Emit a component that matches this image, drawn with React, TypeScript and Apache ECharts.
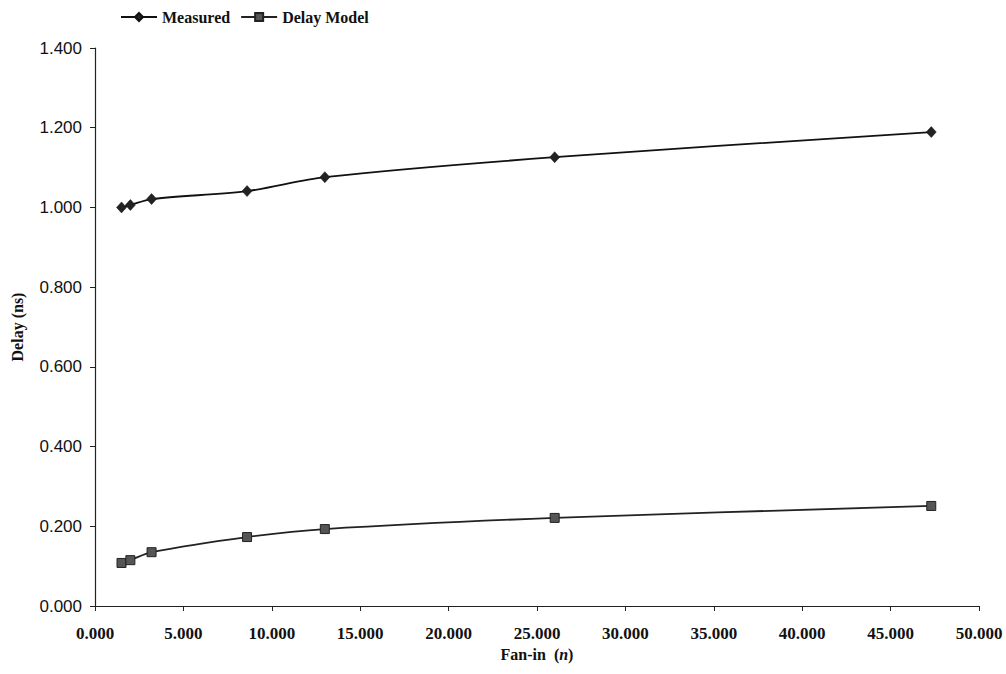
import React, { useEffect, useRef } from "react";
import * as echarts from "echarts";

const fanIn = [1.5, 2.0, 3.2, 8.6, 13.0, 26.0, 47.3];
const measured = [1.0, 1.006, 1.021, 1.041, 1.076, 1.126, 1.189];
const delayModel = [0.108, 0.115, 0.135, 0.173, 0.193, 0.221, 0.251];
const xTicks = { min: 0, max: 50, interval: 5 };
const yTicks = { min: 0, max: 1.4, interval: 0.2 };

const serif = "'Liberation Serif', 'Times New Roman', serif";
const sans = "'Liberation Sans', Arial, sans-serif";

export default function App() {
  const ref = useRef<HTMLDivElement>(null);
  useEffect(() => {
    if (!ref.current) return;
    const chart = echarts.init(ref.current, undefined, { renderer: "svg" });
    chart.setOption({
      animation: false,
      backgroundColor: "#ffffff",
      grid: { left: 95, right: 27, top: 48, bottom: 68, outerBoundsMode: "none", containLabel: false },
      legend: {
        left: 115,
        top: 4,
        itemWidth: 36,
        itemHeight: 10,
        itemGap: 10,
        textStyle: { fontFamily: serif, fontSize: 16, fontWeight: "bold", color: "#111" },
        data: ["Measured", "Delay Model"],
      },
      xAxis: {
        type: "value",
        min: xTicks.min,
        max: xTicks.max,
        interval: xTicks.interval,
        name: "Fan-in  ({i|n})",
        nameLocation: "middle",
        nameGap: 40,
        nameTextStyle: {
          fontFamily: serif,
          fontSize: 16,
          fontWeight: "bold",
          color: "#111",
          rich: { i: { fontFamily: serif, fontSize: 16, fontStyle: "italic", fontWeight: "bold", color: "#111" } },
        },
        axisLine: { show: true, lineStyle: { color: "#222", width: 1.2 } },
        axisTick: { show: true, length: 5, lineStyle: { color: "#222" } },
        splitLine: { show: false },
        axisLabel: {
          fontFamily: serif,
          fontSize: 17,
          fontWeight: "bold",
          color: "#111",
          margin: 19,
          formatter: (v: number) => v.toFixed(3),
        },
      },
      yAxis: {
        type: "value",
        min: yTicks.min,
        max: yTicks.max,
        interval: yTicks.interval,
        name: "Delay (ns)",
        nameLocation: "middle",
        nameGap: 70,
        nameTextStyle: { fontFamily: serif, fontSize: 16, fontWeight: "bold", color: "#111" },
        axisLine: { show: true, lineStyle: { color: "#222", width: 1.2 } },
        axisTick: { show: true, length: 5, lineStyle: { color: "#222" } },
        splitLine: { show: false },
        axisLabel: {
          fontFamily: sans,
          fontSize: 17,
          color: "#111",
          margin: 13,
          formatter: (v: number) => v.toFixed(3),
        },
      },
      series: [
        {
          name: "Measured",
          type: "line",
          smooth: 0.3,
          data: fanIn.map((x, i) => [x, measured[i]]),
          symbol: "diamond",
          symbolSize: [10, 11],
          lineStyle: { color: "#111", width: 1.8 },
          itemStyle: { color: "#222", borderColor: "#111", borderWidth: 0.5 },
        },
        {
          name: "Delay Model",
          type: "line",
          smooth: 0.3,
          data: fanIn.map((x, i) => [x, delayModel[i]]),
          symbol: "rect",
          symbolSize: 9,
          lineStyle: { color: "#222", width: 1.8 },
          itemStyle: { color: "#555", borderColor: "#222", borderWidth: 1 },
        },
      ],
    });
    return () => chart.dispose();
  }, []);
  return (
    <div
      ref={ref}
      style={{ position: "fixed", left: 0, top: 0, width: 1006, height: 674 }}
    />
  );
}
